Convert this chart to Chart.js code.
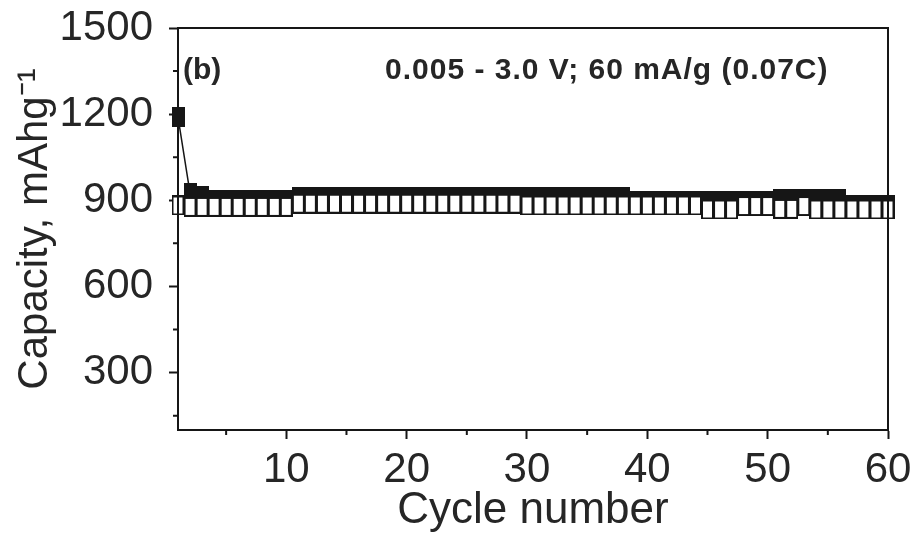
<!DOCTYPE html>
<html>
<head>
<meta charset="utf-8">
<title>Capacity vs cycle number</title>
<script src="https://cdn.jsdelivr.net/npm/chart.js@4.4.1/dist/chart.umd.min.js"></script>
<style>
  html, body { margin: 0; padding: 0; background: #fff; }
  #wrap { width: 910px; height: 535px; }
</style>
</head>
<body>
<div id="wrap"><canvas id="chart" width="910" height="535"></canvas></div>
<script>
// cycle numbers 1..60
const cycles = [1, 2, 3, 4, 5, 6, 7, 8, 9, 10,
  11, 12, 13, 14, 15, 16, 17, 18, 19, 20,
  21, 22, 23, 24, 25, 26, 27, 28, 29, 30,
  31, 32, 33, 34, 35, 36, 37, 38, 39, 40,
  41, 42, 43, 44, 45, 46, 47, 48, 49, 50,
  51, 52, 53, 54, 55, 56, 57, 58, 59, 60];

// filled squares (discharge), mAh/g
const discharge = [1190, 925, 915, 900, 900, 900, 900, 900, 900, 900,
  913, 913, 913, 913, 913, 913, 913, 913, 913, 913,
  913, 913, 913, 913, 913, 913, 913, 913, 913, 913,
  913, 913, 913, 913, 913, 913, 913, 913, 898, 898,
  898, 898, 898, 898, 898, 898, 898, 898, 898, 898,
  905, 905, 905, 905, 905, 905, 885, 885, 885, 885];

// open squares (charge), mAh/g
const charge = [882, 877, 877, 877, 877, 877, 877, 877, 877, 877,
  888, 888, 888, 888, 888, 888, 888, 888, 888, 888,
  888, 888, 888, 888, 888, 888, 888, 888, 888, 882,
  882, 882, 882, 882, 882, 882, 882, 882, 882, 882,
  882, 882, 882, 882, 868, 868, 868, 880, 880, 880,
  870, 870, 880, 868, 868, 868, 868, 868, 868, 868];

const xTicks = [10, 20, 30, 40, 50, 60];
const xMinorTicks = [5, 15, 25, 35, 45, 55];
const yTicks = [300, 600, 900, 1200, 1500];
const yMinorTicks = [150, 450, 750, 1050, 1350];

const panelLabel = '(b)';
const conditionText = '0.005 - 3.0 V; 60 mA/g (0.07C)';

const ink = '#161616';
const textColor = '#262626';
const fontFamily = '"Liberation Sans", Arial, sans-serif';

// tall rectangle markers like the original plot
function makeMarker(fill) {
  const c = document.createElement('canvas');
  c.width = 13;
  c.height = 20;
  const g = c.getContext('2d');
  g.fillStyle = fill;
  g.fillRect(1, 1, 11, 18);
  g.strokeStyle = ink;
  g.lineWidth = 2;
  g.strokeRect(1, 1, 11, 18);
  return c;
}

// box, minor ticks and the text inside the plot
const framePlugin = {
  id: 'frame',
  afterDraw(chart) {
    const { ctx, chartArea: a, scales } = chart;
    ctx.save();
    ctx.strokeStyle = ink;
    ctx.lineWidth = 2;
    ctx.strokeRect(a.left, a.top, a.right - a.left, a.bottom - a.top);

    ctx.beginPath();
    xMinorTicks.forEach(v => {
      const x = scales.x.getPixelForValue(v);
      ctx.moveTo(x, a.bottom);
      ctx.lineTo(x, a.bottom + 5);
    });
    yMinorTicks.forEach(v => {
      const y = scales.y.getPixelForValue(v);
      ctx.moveTo(a.left, y);
      ctx.lineTo(a.left - 5, y);
    });
    ctx.stroke();

    ctx.fillStyle = textColor;
    ctx.textBaseline = 'middle';
    ctx.font = 'bold 30px ' + fontFamily;
    ctx.fillText(panelLabel, a.left + 5, a.top + 43);
    ctx.letterSpacing = '1px';
    ctx.fillText(conditionText, 385, a.top + 43);
    ctx.restore();
  }
};

new Chart(document.getElementById('chart'), {
  type: 'line',
  data: {
    labels: cycles,
    datasets: [
      {
        label: 'Charge',
        data: cycles.map((c, i) => ({ x: c, y: charge[i] })),
        borderColor: ink,
        borderWidth: 1.5,
        pointStyle: makeMarker('#ffffff'),
        clip: false
      },
      {
        label: 'Discharge',
        data: cycles.map((c, i) => ({ x: c, y: discharge[i] })),
        borderColor: ink,
        borderWidth: 1.5,
        pointStyle: makeMarker(ink),
        clip: false
      }
    ]
  },
  options: {
    responsive: false,
    animation: false,
    layout: { padding: { top: 28, right: 22, left: 0, bottom: 0 } },
    plugins: {
      legend: { display: false },
      tooltip: { enabled: false }
    },
    scales: {
      x: {
        type: 'linear',
        min: 1,
        max: 60,
        afterBuildTicks: s => { s.ticks = xTicks.map(v => ({ value: v })); },
        afterFit: s => {
          s.height = 105;
          s.paddingLeft = 0;
          s.paddingRight = 0;
        },
        grid: { drawOnChartArea: false, tickLength: 9, tickWidth: 2, tickColor: ink },
        border: { color: ink, width: 2 },
        ticks: {
          color: textColor,
          padding: 6,
          maxRotation: 0,
          autoSkip: false,
          callback: v => String(v),
          font: { family: fontFamily, size: 42 }
        },
        title: {
          display: true,
          text: 'Cycle number',
          color: textColor,
          padding: { top: 0, bottom: 2 },
          font: { family: fontFamily, size: 44, lineHeight: 1 }
        }
      },
      y: {
        min: 100,
        max: 1500,
        afterBuildTicks: s => { s.ticks = yTicks.map(v => ({ value: v })); },
        afterFit: s => {
          s.width = 178;
          s.paddingTop = 0;
          s.paddingBottom = 0;
        },
        grid: { drawOnChartArea: false, tickLength: 9, tickWidth: 2, tickColor: ink },
        border: { color: ink, width: 2 },
        ticks: {
          color: textColor,
          padding: 16,
          callback: v => String(v),
          font: { family: fontFamily, size: 42 }
        },
        title: {
          display: true,
          text: 'Capacity, mAhg\u207B\u00B9',
          color: textColor,
          padding: { top: 10, bottom: 0 },
          font: { family: fontFamily, size: 42, lineHeight: 1.2 }
        }
      }
    }
  },
  plugins: [framePlugin]
});
</script>
</body>
</html>
